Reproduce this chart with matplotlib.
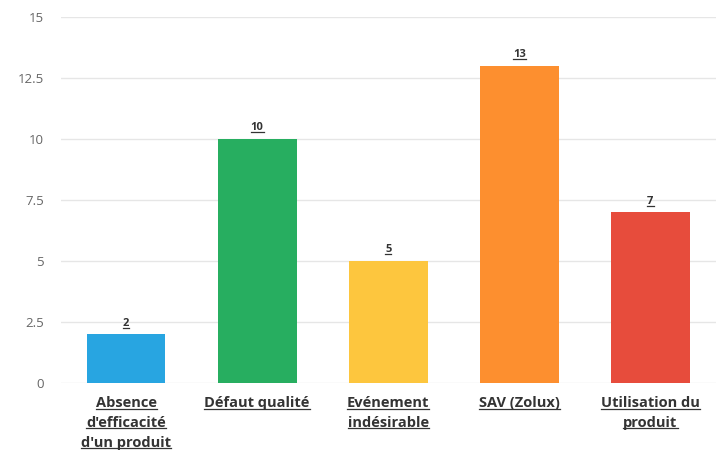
import matplotlib.pyplot as plt
from matplotlib.lines import Line2D

categories = ["Absence\nd'efficacité\nd'un produit", "Défaut qualité",
              "Evénement\nindésirable", "SAV (Zolux)", "Utilisation du\nproduit"]
counts = [2, 10, 5, 13, 7]
colors = ["#28a5e1", "#27ae60", "#fdc63e", "#fd8f2f", "#e74c3c"]
yticks = [0, 2.5, 5, 7.5, 10, 12.5, 15]
ytick_labels = ["0", "2.5", "5", "7.5", "10", "12.5", "15"]

plt.rcParams['font.family'] = ['Open Sans', 'DejaVu Sans']

fig = plt.figure(figsize=(7.21, 4.5), dpi=100)
ax = fig.add_axes([0.084, 0.149, 0.909, 0.813])

x = list(range(len(categories)))
ax.bar(x, counts, width=0.6, color=colors, zorder=2)
ax.set_xlim(-0.5, len(categories) - 0.5)
ax.set_ylim(0, 15)

ax.set_yticks(yticks)
ax.set_yticklabels(ytick_labels, color="#666666", fontsize=9.5)
ax.tick_params(axis='y', length=0, pad=12)
ax.set_xticks([])
ax.grid(axis='y', color="#e6e6e6", linewidth=1, zorder=0)
for s in ax.spines.values():
    s.set_visible(False)

# text pieces that get an underline once the figure is laid out
underlined = []

for xi, v in zip(x, counts):
    t = ax.annotate(str(v), (xi, v), xytext=(0, 4), textcoords='offset points',
                    ha='center', va='bottom', fontsize=8, fontweight='bold',
                    color="#333333")
    underlined.append(t)

trans = ax.get_xaxis_transform()
for xi, label in zip(x, categories):
    for i, line in enumerate(label.split("\n")):
        t = ax.annotate(line, (xi, 0), xycoords=trans,
                        xytext=(0, -9.5 - i * 14.2), textcoords='offset points',
                        ha='center', va='top', fontsize=10.5, fontweight='bold',
                        color="#333333")
        underlined.append(t)

fig.canvas.draw()
renderer = fig.canvas.get_renderer()
W, H = fig.bbox.width, fig.bbox.height
for t in underlined:
    bb = t.get_window_extent(renderer)
    y = bb.y0 + bb.height * 0.1
    fig.add_artist(Line2D([bb.x0 / W, bb.x1 / W], [y / H, y / H],
                          transform=fig.transFigure, color="#333333",
                          linewidth=0.9))

fig.savefig("out.png", dpi=100, facecolor="white")
